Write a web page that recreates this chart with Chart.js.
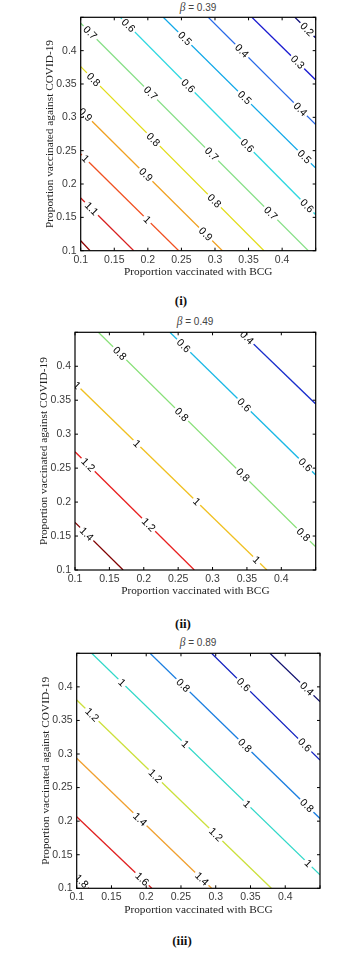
<!DOCTYPE html>
<html><head><meta charset="utf-8">
<script src="https://cdn.jsdelivr.net/npm/chart.js@4/dist/chart.umd.min.js"></script>
<style>
html,body{margin:0;padding:0;background:#fff;}
body{width:362px;height:953px;position:relative;overflow:hidden;}
canvas{position:absolute;left:0;}
.ttl{position:absolute;font-family:"Liberation Sans",sans-serif;font-size:10px;color:#444;transform:translate(-50%,-50%);white-space:nowrap;}
.ttl i{font-family:"Liberation Serif",serif;font-size:11.5px;}
.pl{position:absolute;font-family:"Liberation Serif",serif;font-weight:bold;font-size:13px;color:#111;transform:translate(-50%,-50%);white-space:nowrap;}
</style></head><body>
<div class="ttl" style="left:198px;top:7px"><i>β</i> = 0.39</div>
<div class="ttl" style="left:195px;top:321px"><i>β</i> = 0.49</div>
<div class="ttl" style="left:198px;top:642px"><i>β</i> = 0.89</div>
<div class="pl" style="left:181px;top:301px">(i)</div>
<div class="pl" style="left:183px;top:624px">(ii)</div>
<div class="pl" style="left:182px;top:941px">(iii)</div>
<script>
// ---- tick labels ----
const xTickLabels = ['0.1','0.15','0.2','0.25','0.3','0.35','0.4'];
const yTickLabels = ['0.1','0.15','0.2','0.25','0.3','0.35','0.4'];
const xTitle = 'Proportion vaccinated with BCG';
const yTitle = 'Proportion vaccinated against COVID-19';

// ---- panel (i): beta = 0.39 ----
const levels1 = [0.2,0.3,0.4,0.5,0.6,0.7,0.8,0.9,1,1.1,1.2];
const start1 = [[0.419,0.45],[0.355,0.45],[0.290,0.45],[0.223,0.45],[0.159,0.45],[0.1,0.441],[0.1,0.376],[0.1,0.311],[0.1,0.245],[0.1,0.179],[0.1,0.115]];
const end1 = [[0.45,0.419],[0.45,0.356],[0.45,0.289],[0.45,0.224],[0.45,0.154],[0.439,0.1],[0.373,0.1],[0.311,0.1],[0.246,0.1],[0.179,0.1],[0.114,0.1]];
const labelAt1 = [[0.437],[0.423],[0.340,0.427],[0.255,0.344,0.433],[0.171,0.260,0.348,0.437],[0.114,0.204,0.295,0.383],[0.119,0.208,0.299],[0.107,0.197,0.286],[0.107,0.199],[0.116],[]];

// ---- panel (ii): beta = 0.49 ----
const levels2 = [0.4,0.6,0.8,1,1.2,1.4];
const start2 = [[0.342,0.45],[0.238,0.45],[0.134,0.45],[0.1,0.375],[0.1,0.274],[0.1,0.170]];
const end2 = [[0.45,0.3445],[0.45,0.240],[0.45,0.134],[0.379,0.1],[0.2735,0.1],[0.170,0.1]];
const labelAt2 = [[0.350],[0.258,0.346,0.435],[0.165,0.255,0.344,0.432],[0.103,0.190,0.277,0.364],[0.119,0.207],[0.117]];

// ---- panel (iii): beta = 0.89 ----
const levels3 = [0.4,0.6,0.8,1,1.2,1.4,1.6,1.8];
const start3 = [[0.378,0.45],[0.294,0.45],[0.2055,0.45],[0.1216,0.45],[0.1,0.3805],[0.1,0.2936],[0.1,0.2067],[0.1,0.118]];
const end3 = [[0.45,0.378],[0.45,0.291],[0.45,0.204],[0.45,0.12],[0.380,0.1],[0.294,0.1],[0.208,0.1],[0.117,0.1]];
const labelAt3 = [[0.431],[0.340,0.428],[0.253,0.342,0.431],[0.165,0.256,0.345,0.433],[0.122,0.213,0.300],[0.191,0.280],[0.194],[0.107]];

// ---- styles ----
const colors1 = ['#10107a','#1a1ad0','#2a6ae8','#10a8e8','#30d8e0','#88e088','#e2dc18','#f0a020','#f05020','#d82020','#900000'];
const colors2 = ['#1a2ecc','#1ab8e6','#88e078','#f0c020','#e82020','#800000'];
const colors3 = ['#10106e','#1020c0','#1a7ee0','#30d8c8','#cce03c','#f0a030','#e02020','#900000'];

const tickVals = [0.1,0.15,0.2,0.25,0.3,0.35,0.4,0.45];

const decor = {
  id:'contourDecor',
  afterDatasetsDraw(chart, args, opts){
    const {ctx, chartArea:a, scales:{x, y}} = chart;
    ctx.save();
    ctx.beginPath(); ctx.rect(a.left, a.top, a.right-a.left, a.bottom-a.top); ctx.clip();
    ctx.font = '10.5px "Liberation Sans", Arial, sans-serif';
    ctx.textAlign = 'center'; ctx.textBaseline = 'middle';
    chart.data.datasets.forEach((ds, i) => {
      const p0 = ds.data[0], p1 = ds.data[1];
      const x0 = x.getPixelForValue(p0.x), y0 = y.getPixelForValue(p0.y);
      const x1 = x.getPixelForValue(p1.x), y1 = y.getPixelForValue(p1.y);
      const ang = Math.atan2(y1-y0, x1-x0);
      (opts.labels[i]||[]).forEach(lx => {
        const t = (lx - p0.x)/(p1.x - p0.x);
        const ly = p0.y + t*(p1.y - p0.y);
        const px = x.getPixelForValue(lx), py = y.getPixelForValue(ly);
        const txt = String(ds.label);
        ctx.save();
        ctx.translate(px, py); ctx.rotate(ang);
        const w = ctx.measureText(txt).width;
        ctx.fillStyle = '#fff';
        ctx.fillRect(-w/2-2, -4, w+4, 8);
        ctx.fillStyle = '#000';
        ctx.fillText(txt, 0, 0.5);
        ctx.restore();
      });
    });
    ctx.restore();
    // frame + inward ticks
    ctx.save();
    ctx.strokeStyle = '#000'; ctx.lineWidth = 1.2;
    ctx.strokeRect(a.left, a.top, a.right-a.left, a.bottom-a.top);
    ctx.lineWidth = 1;
    ctx.beginPath();
    tickVals.forEach(v => {
      const px = x.getPixelForValue(v), py = y.getPixelForValue(v);
      ctx.moveTo(px, a.bottom); ctx.lineTo(px, a.bottom-3);
      ctx.moveTo(px, a.top); ctx.lineTo(px, a.top+3);
      ctx.moveTo(a.left, py); ctx.lineTo(a.left+3, py);
      ctx.moveTo(a.right, py); ctx.lineTo(a.right-3, py);
    });
    ctx.stroke();
    ctx.restore();
  }
};

function makePanel(p){
  const canvas = document.createElement('canvas');
  canvas.width = 362; canvas.height = p.ch; canvas.style.top = p.ct + 'px';
  document.body.appendChild(canvas);
  const datasets = p.levels.map((lv, i) => ({
    label: String(lv),
    data: [{x:p.start[i][0], y:p.start[i][1]}, {x:p.end[i][0], y:p.end[i][1]}],
    showLine: true, borderColor: p.colors[i], backgroundColor: p.colors[i],
    borderWidth: 1.3, pointRadius: 0, tension: 0, fill: false
  }));
  const tickFont = {family:'"Liberation Sans", Arial, sans-serif', size:10.5};
  const titleFont = {family:'"Liberation Serif", "Times New Roman", serif', size:11.3};
  new Chart(canvas, {
    type: 'scatter',
    data: {datasets},
    options: {
      responsive: false, animation: false, devicePixelRatio: 1,
      layout: {padding: {left:0, right:362-p.right, top:p.top-p.ct, bottom:p.ch-(p.bottom-p.ct)-30}},
      plugins: {legend:{display:false}, tooltip:{enabled:false}, contourDecor:{labels:p.labelAt}},
      scales: {
        x: {
          type:'linear', min:0.1, max:0.45,
          afterBuildTicks: s => { s.ticks = xTickLabels.map(v => ({value: parseFloat(v)})); },
          afterFit: s => { s.height = 30; },
          ticks: {callback:(v,i)=>xTickLabels[i], font:tickFont, color:'#3a3a3a', padding:3, maxRotation:0, autoSkip:false},
          grid: {display:false, drawTicks:false}, border:{display:false},
          title: {display:true, text:xTitle, font:titleFont, color:'#222', padding:{top:0, bottom:1.7}}
        },
        y: {
          type:'linear', min:0.1, max:0.45,
          afterBuildTicks: s => { s.ticks = yTickLabels.map(v => ({value: parseFloat(v)})); },
          afterFit: s => { s.width = p.left; },
          ticks: {callback:(v,i)=>yTickLabels[i], font:tickFont, color:'#3a3a3a', padding:4, autoSkip:false},
          grid: {display:false, drawTicks:false}, border:{display:false},
          title: {display:true, text:yTitle, font:titleFont, color:'#222', padding:{top:p.left-31-6.8, bottom:0}}
        }
      }
    },
    plugins: [decor]
  });
}

makePanel({ct:0, ch:282, left:80.7, right:315.7, top:17.3, bottom:250.7, levels:levels1, start:start1, end:end1, labelAt:labelAt1, colors:colors1});
makePanel({ct:300, ch:302, left:75, right:315.7, top:332.3, bottom:570, levels:levels2, start:start2, end:end2, labelAt:labelAt2, colors:colors2});
makePanel({ct:620, ch:300, left:76.7, right:320, top:653.3, bottom:888.3, levels:levels3, start:start3, end:end3, labelAt:labelAt3, colors:colors3});
</script>
</body></html>
